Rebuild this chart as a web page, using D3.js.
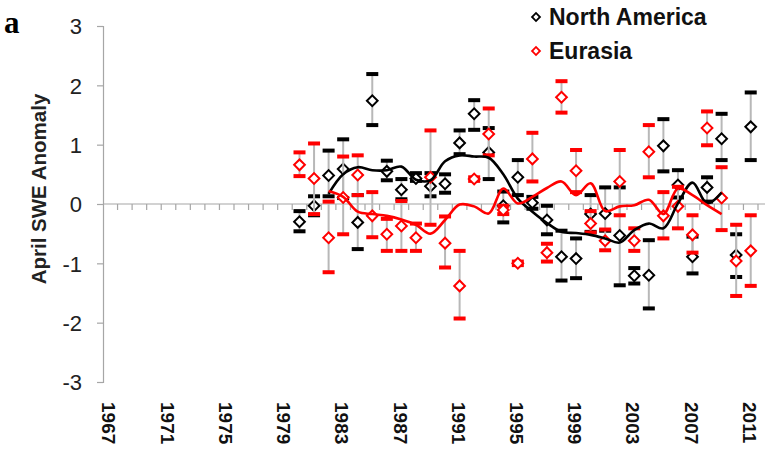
<!DOCTYPE html>
<html><head><meta charset="utf-8">
<script src="https://cdn.jsdelivr.net/npm/d3@7"></script>
<style>body{margin:0;background:#fff} svg{display:block}</style>
</head><body><svg id="c" width="765" height="457"></svg>
<script>
// ---------- DATA ----------
const categories = [1967,1968,1969,1970,1971,1972,1973,1974,1975,1976,1977,1978,1979,1980,1981,1982,1983,1984,1985,1986,1987,1988,1989,1990,1991,1992,1993,1994,1995,1996,1997,1998,1999,2000,2001,2002,2003,2004,2005,2006,2007,2008,2009,2010,2011];
const tickLabels = ["1967","1971","1975","1979","1983","1987","1991","1995","1999","2003","2007","2011"];
const yTicks = [-3,-2,-1,0,1,2,3];

const dataYears = [1980,1981,1982,1983,1984,1985,1986,1987,1988,1989,1990,1991,1992,1993,1994,1995,1996,1997,1998,1999,2000,2001,2002,2003,2004,2005,2006,2007,2008,2009,2010,2011];

const naValue = [-0.30,-0.03,0.48,0.59,-0.31,1.74,0.55,0.24,0.43,0.30,0.34,1.03,1.52,0.87,-0.03,0.45,0.02,-0.27,-0.89,-0.92,-0.17,-0.16,-0.53,-1.21,-1.20,0.98,0.32,-0.89,0.28,1.10,-0.86,1.30];
const naHigh  = [-0.12,0.13,0.90,1.09,0.15,2.19,0.73,0.42,0.52,0.52,0.50,1.24,1.75,1.28,0.21,0.74,0.12,-0.03,-0.45,-0.58,0.15,0.28,0.28,-1.08,-0.61,1.43,0.57,-0.55,0.45,1.52,-0.51,1.88];
const naLow   = [-0.46,-0.19,0.13,0.10,-0.76,1.33,0.40,0.08,0.39,0.13,0.19,0.84,1.25,0.42,-0.31,0.15,-0.08,-0.51,-1.29,-1.25,-0.47,-0.45,-1.37,-1.34,-1.76,0.55,0.11,-1.17,0.04,0.74,-1.23,0.74];

const euValue = [0.66,0.43,-0.57,0.11,0.49,-0.20,-0.51,-0.37,-0.57,0.45,-0.66,-1.38,0.42,1.18,-0.10,-1.00,0.76,-0.82,1.80,0.56,-0.33,-0.62,0.38,-0.62,0.88,-0.20,-0.04,-0.52,1.28,0.10,-0.96,-0.79];
const euHigh  = [0.87,1.02,0.04,0.80,0.82,0.20,-0.25,0.05,-0.33,1.24,-0.21,-0.79,0.45,1.61,-0.03,-0.97,1.20,-0.67,2.07,0.91,-0.12,-0.43,0.91,-0.41,1.33,0.20,0.29,-0.19,1.56,0.62,-0.35,-0.19];
const euLow   = [0.47,-0.17,-1.15,-0.51,0.15,-0.56,-0.79,-0.79,-0.79,-0.35,-1.07,-1.93,0.39,0.82,-0.17,-1.03,0.38,-0.97,1.54,0.20,-0.48,-0.78,-0.19,-0.79,0.45,-0.58,-0.41,-0.82,0.99,-0.44,-1.55,-1.38];

const trendYears = [1982,1983,1984,1985,1986,1987,1988,1989,1990,1991,1992,1993,1994,1995,1996,1997,1998,1999,2000,2001,2002,2003,2004,2005,2006,2007,2008,2009];
const naTrend = [0.17,0.50,0.62,0.57,0.57,0.63,0.41,0.40,0.72,0.82,0.80,0.78,0.50,0.09,-0.13,-0.32,-0.47,-0.49,-0.52,-0.58,-0.65,-0.44,-0.33,-0.41,0.01,0.36,0.01,0.19];
const euTrend = [0.22,0.12,-0.13,-0.17,-0.20,-0.26,-0.35,-0.50,-0.27,-0.01,-0.04,-0.16,0.26,0.01,0.12,0.27,0.38,0.15,0.35,-0.12,-0.04,-0.02,0.07,-0.17,0.26,0.15,-0.02,-0.17];

const seriesNames = ["North America","Eurasia"];

// ---------- CHART ----------
const svg = d3.select("#c");
const BLACK = "#000", RED = "#ff0000", GREY = "#b8b8b8";
const FONT = "Liberation Sans, Arial, sans-serif";
const x = d3.scaleBand().domain(categories).range([103, 758]).padding(0);
const y = d3.scaleLinear().domain([-3, 3]).range([382, 26]);
const cx = yr => x(yr) + x.bandwidth() / 2;

// y axis
const yAxis = d3.axisLeft(y).tickValues(yTicks).tickSize(6).tickFormat(d => String(d));
const gy = svg.append("g").attr("transform", "translate(103,0)").call(yAxis);
gy.select(".domain").attr("stroke", "#a6a6a6").attr("stroke-width", 1.2);
gy.selectAll(".tick line").attr("stroke", "#a6a6a6").attr("stroke-width", 1.2);
gy.selectAll(".tick text").attr("x", -21).attr("font-family", FONT)
  .attr("font-size", 22).attr("fill", "#222").attr("dy", "0.36em");

// x axis at zero
const xAxis = d3.axisBottom(x).tickSize(6).tickFormat("");
const gx = svg.append("g").attr("transform", `translate(0,${y(0)})`).call(xAxis);
gx.select(".domain").attr("d", `M103,0H765`).attr("stroke", "#a6a6a6").attr("stroke-width", 1.2);
gx.selectAll(".tick line").attr("x1", x.step() / 2).attr("x2", x.step() / 2)
  .attr("stroke", "#a6a6a6").attr("stroke-width", 1.2);

// year labels at bottom
svg.append("g").selectAll("text").data(tickLabels).join("text")
  .attr("transform", d => `translate(${cx(+d) - 1},402) rotate(90)`)
  .attr("dy", "0.36em")
  .attr("font-family", FONT)
  .attr("font-weight", "bold").attr("font-size", 19).attr("fill", "#111")
  .text(d => d);

// y label
svg.append("text").attr("transform", "translate(46,189) rotate(-90)")
  .attr("text-anchor", "middle")
  .attr("font-family", FONT)
  .attr("font-weight", "bold").attr("font-size", 20.5).attr("fill", "#222")
  .text("April SWE Anomaly");

// panel letter
svg.append("text").attr("x", 4).attr("y", 33)
  .attr("font-family", "Liberation Serif, Times New Roman, serif")
  .attr("font-weight", "bold").attr("font-size", 31).text("a");

function drawSeries(vals, hi, lo) {
  const rows = dataYears.map((yr, i) => ({yr, v: vals[i], h: hi[i], l: lo[i]}));
  const g = svg.append("g");
  g.selectAll("line.err").data(rows).join("line")
    .attr("x1", d => cx(d.yr)).attr("x2", d => cx(d.yr))
    .attr("y1", d => y(d.h)).attr("y2", d => y(d.l))
    .attr("stroke", GREY).attr("stroke-width", 2);
  return {g, rows};
}
function drawCaps(s, color) {
  const w = 12, h = 4;
  s.g.selectAll("rect.cap").data(s.rows.flatMap(d => [{yr: d.yr, v: d.h}, {yr: d.yr, v: d.l}])).join("rect")
    .attr("x", d => cx(d.yr) - w / 2).attr("y", d => y(d.v) - h / 2)
    .attr("width", w).attr("height", h).attr("fill", color);
}
function drawDiamonds(s, color) {
  s.g.selectAll("path.dia").data(s.rows).join("path")
    .attr("transform", d => `translate(${cx(d.yr)},${y(d.v)}) rotate(45)`)
    .attr("d", "M-3.8,-3.8H3.8V3.8H-3.8Z")
    .attr("fill", "#fff").attr("stroke", color).attr("stroke-width", 2);
}
const sNA = drawSeries(naValue, naHigh, naLow);
const sEU = drawSeries(euValue, euHigh, euLow);
drawCaps(sNA, BLACK); drawCaps(sEU, RED);
drawDiamonds(sNA, BLACK); drawDiamonds(sEU, RED);

// smoothed trend lines
const line = d3.line().x(d => cx(d[0])).y(d => y(d[1])).curve(d3.curveCatmullRom.alpha(0.5));
svg.append("path").datum(trendYears.map((yr, i) => [yr, naTrend[i]])).attr("d", line)
  .attr("fill", "none").attr("stroke", BLACK).attr("stroke-width", 2.6);
svg.append("path").datum(trendYears.map((yr, i) => [yr, euTrend[i]])).attr("d", line)
  .attr("fill", "none").attr("stroke", RED).attr("stroke-width", 2.6);

// legend
const leg = svg.append("g");
[BLACK, RED].forEach((c, i) => {
  const ly = 17 + i * 34;
  leg.append("path").attr("transform", `translate(536,${ly}) rotate(45)`)
    .attr("d", "M-2.8,-2.8H2.8V2.8H-2.8Z").attr("fill", "#fff").attr("stroke", c).attr("stroke-width", 1.8);
  leg.append("text").attr("x", 549).attr("y", ly + 8)
    .attr("font-family", FONT)
    .attr("font-weight", "bold").attr("font-size", 23).attr("fill", "#111")
    .text(seriesNames[i]);
});
</script></body></html>
